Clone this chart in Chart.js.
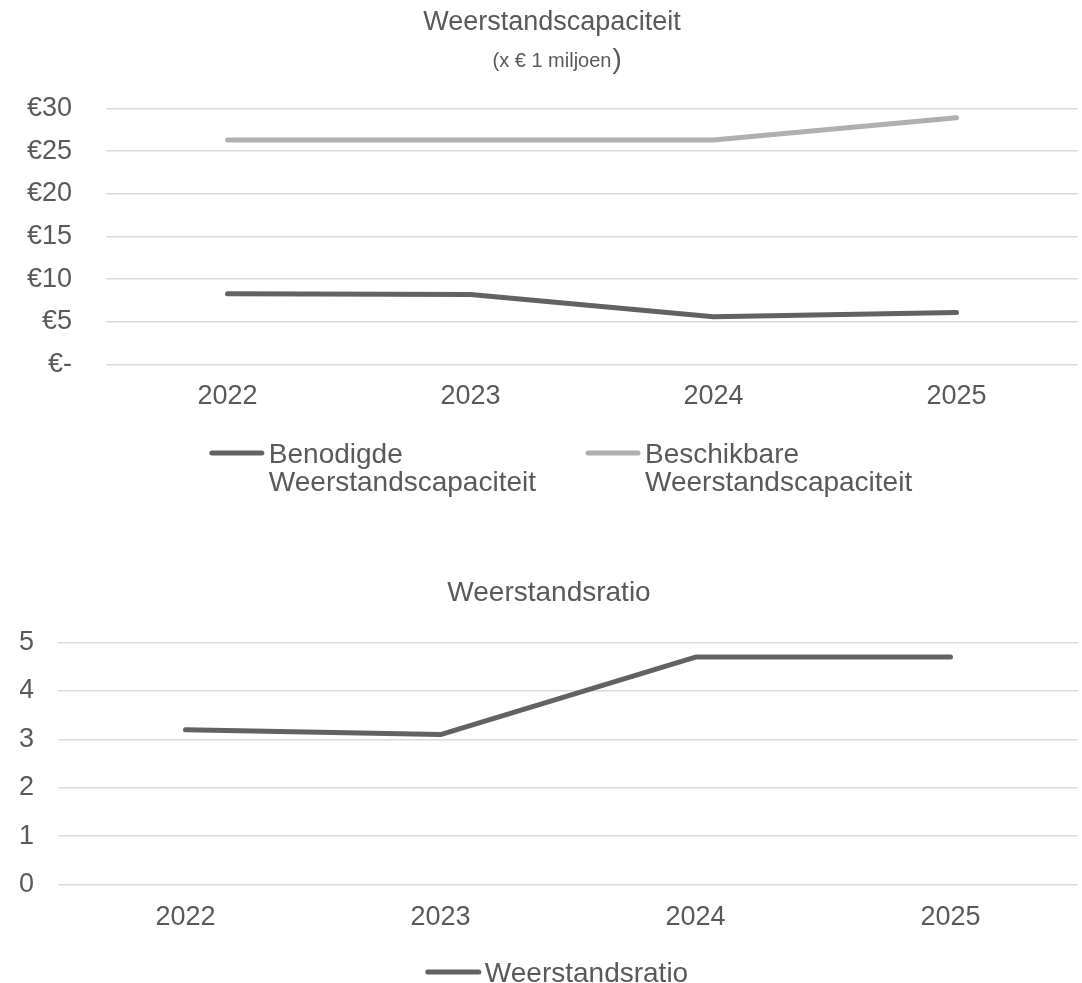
<!DOCTYPE html>
<html>
<head>
<meta charset="utf-8">
<script src="https://cdn.jsdelivr.net/npm/chart.js@4.4.1/dist/chart.umd.min.js"></script>
<style>
  html, body { margin: 0; padding: 0; background: #ffffff; }
  #wrap1 { position: absolute; left: 0; top: 0; width: 1082px; height: 530px; }
  #wrap2 { position: absolute; left: 0; top: 530px; width: 1082px; height: 453px; }
</style>
</head>
<body>
<div id="wrap1"><canvas id="c1"></canvas></div>
<div id="wrap2"><canvas id="c2"></canvas></div>
<script>
// ---- data ----
const years = ['2022', '2023', '2024', '2025'];
const benodigdeCapaciteit = [8.3, 8.2, 5.6, 6.1];
const beschikbareCapaciteit = [26.3, 26.3, 26.3, 28.9];
const weerstandsratio = [3.2, 3.1, 4.7, 4.7];
const labelBenodigd = ['Benodigde', 'Weerstandscapaciteit'];
const labelBeschikbaar = ['Beschikbare', 'Weerstandscapaciteit'];
const labelRatio = 'Weerstandsratio';
const title1 = 'Weerstandscapaciteit';
const subtitle1 = '(x € 1 miljoen';
const subtitleClose = ')';
const title2 = 'Weerstandsratio';

// ---- styles ----
const FONT = '"Liberation Sans", Arial, sans-serif';
const TXT = '#595959';
const GRID = '#d9d9d9';
const DARK = '#626262';
const LIGHT = '#afafaf';
const SUB_SIZE = 20;

Chart.defaults.font.family = FONT;
Chart.defaults.color = TXT;
Chart.defaults.animation = false;

// draws the larger closing parenthesis after the subtitle
const bigParen = {
  id: 'bigParen',
  afterDraw(chart) {
    const box = chart.boxes.find(b => b.options && b.options.text === subtitle1);
    if (!box) return;
    const ctx = chart.ctx;
    ctx.save();
    ctx.font = SUB_SIZE + 'px ' + FONT;
    const w = ctx.measureText(subtitle1).width;
    const cx = (box.left + box.right) / 2;
    const cy = box.top + 11 + SUB_SIZE * 1.2 / 2;
    ctx.font = '28px ' + FONT;
    ctx.fillStyle = TXT;
    ctx.textAlign = 'left';
    ctx.textBaseline = 'middle';
    ctx.fillText(subtitleClose, cx + w / 2 + 1, cy - 1);
    ctx.restore();
  }
};

// legend with (multi-line) labels, built from the datasets
const multiLegend = {
  id: 'multiLegend',
  afterDraw(chart, args, opts) {
    const ctx = chart.ctx;
    ctx.save();
    ctx.font = opts.fontSize + 'px ' + FONT;
    const items = chart.data.datasets.map(ds => {
      const lines = Array.isArray(ds.label) ? ds.label : [ds.label];
      const tw = Math.max(...lines.map(l => ctx.measureText(l).width));
      return { lines, tw, color: ds.borderColor, lw: ds.borderWidth, w: opts.markWidth + opts.gap + tw };
    });
    const total = items.reduce((s, it) => s + it.w, 0) + opts.spacing * (items.length - 1);
    let x = opts.centerX - total / 2;
    const y0 = chart.scales.x.bottom + opts.offsetY;
    items.forEach(it => {
      ctx.strokeStyle = it.color;
      ctx.lineWidth = it.lw;
      ctx.lineCap = 'round';
      ctx.beginPath();
      ctx.moveTo(x, y0 - 2);
      ctx.lineTo(x + opts.markWidth, y0 - 2);
      ctx.stroke();
      ctx.fillStyle = TXT;
      ctx.textAlign = 'left';
      ctx.textBaseline = 'middle';
      it.lines.forEach((l, i) => ctx.fillText(l, x + opts.markWidth + opts.gap, y0 + i * opts.lineSpacing));
      x += it.w + opts.spacing;
    });
    ctx.restore();
  }
};

new Chart(document.getElementById('c1'), {
  type: 'line',
  data: {
    labels: years,
    datasets: [
      { label: labelBenodigd, data: benodigdeCapaciteit, borderColor: DARK, backgroundColor: DARK,
        borderWidth: 5, pointRadius: 0, borderCapStyle: 'round', borderJoinStyle: 'round', tension: 0 },
      { label: labelBeschikbaar, data: beschikbareCapaciteit, borderColor: LIGHT, backgroundColor: LIGHT,
        borderWidth: 5, pointRadius: 0, borderCapStyle: 'round', borderJoinStyle: 'round', tension: 0 }
    ]
  },
  options: {
    responsive: true,
    maintainAspectRatio: false,
    layout: { padding: { left: 26, right: 4, top: 0, bottom: 101 } },
    plugins: {
      title: { display: true, text: title1, font: { size: 27, weight: 'normal' }, color: TXT,
               padding: { top: 6, bottom: 0 } },
      subtitle: { display: true, text: subtitle1, font: { size: SUB_SIZE, weight: 'normal' }, color: TXT,
                  padding: { top: 11, bottom: 35 } },
      legend: { display: false },
      multiLegend: { fontSize: 28, markWidth: 50, gap: 7, spacing: 52, centerX: 562, offsetY: 26, lineSpacing: 28.5 },
      tooltip: { enabled: false }
    },
    scales: {
      x: {
        offset: true,
        grid: { display: false, drawTicks: false },
        border: { display: false },
        ticks: { font: { size: 27 }, color: TXT, padding: 16 }
      },
      y: {
        min: 0, max: 30,
        afterFit(scale) { scale.width = 80; },
        grid: { color: GRID, lineWidth: 1.5, drawTicks: false },
        border: { display: false },
        ticks: { stepSize: 5, autoSkip: false, font: { size: 27 }, color: TXT, padding: 34,
                 callback: v => v === 0 ? '€-' : '€' + v }
      }
    }
  },
  plugins: [bigParen, multiLegend]
});

new Chart(document.getElementById('c2'), {
  type: 'line',
  data: {
    labels: years,
    datasets: [
      { label: labelRatio, data: weerstandsratio, borderColor: DARK, backgroundColor: DARK,
        borderWidth: 5, pointRadius: 0, borderCapStyle: 'round', borderJoinStyle: 'round', tension: 0 }
    ]
  },
  options: {
    responsive: true,
    maintainAspectRatio: false,
    layout: { padding: { left: 20, right: 4, top: 0, bottom: 32 } },
    plugins: {
      title: { display: true, text: title2, font: { size: 28, weight: 'normal' }, color: TXT,
               padding: { top: 46, bottom: 33 } },
      legend: { display: false },
      multiLegend: { fontSize: 28, markWidth: 51, gap: 6, spacing: 0, centerX: 558, offsetY: 23, lineSpacing: 28.5 },
      tooltip: { enabled: false }
    },
    scales: {
      x: {
        offset: true,
        grid: { display: false, drawTicks: false },
        border: { display: false },
        ticks: { font: { size: 27 }, color: TXT, padding: 17 }
      },
      y: {
        min: 0, max: 5,
        afterFit(scale) { scale.width = 38; },
        grid: { color: GRID, lineWidth: 1.5, drawTicks: false },
        border: { display: false },
        ticks: { stepSize: 1, autoSkip: false, font: { size: 27 }, color: TXT, padding: 24 }
      }
    }
  },
  plugins: [multiLegend]
});
</script>
</body>
</html>
